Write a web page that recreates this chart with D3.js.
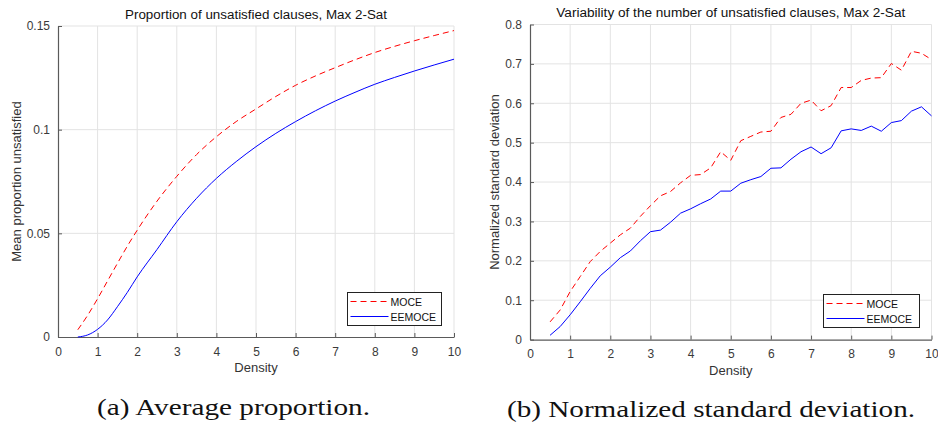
<!DOCTYPE html>
<html>
<head>
<meta charset="utf-8">
<script src="https://cdn.jsdelivr.net/npm/d3@7"></script>
<style>
  html, body { margin: 0; padding: 0; background: #fff; }
  svg { display: block; }
  text { font-family: "Liberation Sans", Arial, Helvetica, sans-serif; }
</style>
</head>
<body>
<svg id="chart" width="938" height="429"></svg>
<script>
// ---------- DATA ----------
const densityA = [0.5, 0.75, 1, 1.25, 1.5, 1.75, 2, 2.5, 3, 3.5, 4, 4.5, 5, 5.5, 6, 6.5, 7, 7.5, 8, 8.5, 9, 9.5, 10];
const moceMean = [0.0035, 0.0105, 0.0185, 0.0270, 0.0355, 0.0438, 0.0515, 0.0655, 0.0775, 0.0880, 0.0966, 0.1039, 0.1100, 0.1160, 0.1214, 0.1259, 0.1299, 0.1337, 0.1372, 0.1402, 0.1429, 0.1454, 0.1478];
const eemoceMean = [0.0000, 0.0010, 0.0037, 0.0082, 0.0146, 0.0215, 0.0290, 0.0422, 0.0556, 0.0669, 0.0765, 0.0846, 0.0918, 0.0982, 0.1039, 0.1091, 0.1138, 0.1180, 0.1219, 0.1252, 0.1283, 0.1312, 0.1340];

const densityB = [0.5, 0.75, 1, 1.25, 1.5, 1.75, 2, 2.25, 2.5, 2.75, 3, 3.25, 3.5, 3.75, 4, 4.25, 4.5, 4.75, 5, 5.25, 5.5, 5.75, 6, 6.25, 6.5, 6.75, 7, 7.25, 7.5, 7.75, 8, 8.25, 8.5, 8.75, 9, 9.25, 9.5, 9.75, 10];
const moceStd = [0.045, 0.075, 0.122, 0.160, 0.198, 0.224, 0.245, 0.266, 0.283, 0.313, 0.340, 0.365, 0.376, 0.398, 0.417, 0.419, 0.436, 0.477, 0.455, 0.505, 0.516, 0.527, 0.529, 0.564, 0.572, 0.600, 0.608, 0.581, 0.594, 0.640, 0.640, 0.658, 0.664, 0.665, 0.701, 0.684, 0.732, 0.727, 0.711];
const eemoceStd = [0.011, 0.033, 0.063, 0.096, 0.130, 0.162, 0.184, 0.208, 0.225, 0.251, 0.274, 0.278, 0.298, 0.321, 0.332, 0.345, 0.357, 0.377, 0.377, 0.397, 0.406, 0.414, 0.435, 0.436, 0.458, 0.477, 0.489, 0.472, 0.487, 0.530, 0.535, 0.531, 0.542, 0.529, 0.551, 0.556, 0.580, 0.591, 0.568];

const xTicks = [0, 1, 2, 3, 4, 5, 6, 7, 8, 9, 10];
const yTicksA = [0, 0.05, 0.1, 0.15];
const yTicksB = [0, 0.1, 0.2, 0.3, 0.4, 0.5, 0.6, 0.7, 0.8];
const seriesNames = ["MOCE", "EEMOCE"];
const seriesColors = ["#ff0000", "#0000ff"];

const titles = ["Proportion of unsatisfied clauses, Max 2-Sat", "Variability of the number of unsatisfied clauses, Max 2-Sat"];
const yLabels = ["Mean proportion unsatisfied", "Normalized standard deviation"];
const xLabel = "Density";
const captions = ["(a) Average proportion.", "(b) Normalized standard deviation."];

// ---------- DRAW ----------
const svg = d3.select("#chart");

function panel(opts) {
  const { left, right, top, bottom, yMax, yTicks, yFmt, xs, series, title, yLabel, legend, caption, titleY, titleW, xLabelY, ylabX } = opts;
  const x = d3.scaleLinear().domain([0, 10]).range([left, right]);
  const y = d3.scaleLinear().domain([0, yMax]).range([bottom, top]);
  const g = svg.append("g");

  // grid
  g.append("g").selectAll("line").data(xTicks.filter(d => d > 0)).join("line")
    .attr("x1", d => x(d)).attr("x2", d => x(d)).attr("y1", top).attr("y2", bottom)
    .attr("stroke", "#e3e3e3").attr("stroke-width", 1);
  g.append("g").selectAll("line").data(yTicks.filter(d => d > 0)).join("line")
    .attr("x1", left).attr("x2", right).attr("y1", d => y(d)).attr("y2", d => y(d))
    .attr("stroke", "#e3e3e3").attr("stroke-width", 1);

  // axes
  const xAxis = d3.axisBottom(x).tickValues(xTicks).tickSizeInner(-4).tickSizeOuter(0).tickPadding(10).tickFormat(d3.format("d"));
  const gx = g.append("g").attr("transform", `translate(0,${bottom})`).call(xAxis);
  const yAxis = d3.axisLeft(y).tickValues(yTicks).tickSizeInner(-4).tickSizeOuter(0).tickPadding(8).tickFormat(yFmt);
  const gy = g.append("g").attr("transform", `translate(${left},0)`).call(yAxis);
  [gx, gy].forEach(a => {
    a.select(".domain").attr("stroke", "#5a5a5a").attr("stroke-width", 1.2);
    a.selectAll(".tick line").attr("stroke", "#5a5a5a");
    a.selectAll(".tick text").attr("fill", "#3a3a3a").style("font-size", "12px")
      .style("font-family", "'Liberation Sans', Arial, sans-serif");
  });

  // lines
  const line = d3.line().x((d, i) => x(xs[i])).y(d => y(d));
  if (opts.smooth) line.curve(d3.curveMonotoneX);
  series.forEach((s, k) => {
    g.append("path").datum(s).attr("d", line).attr("fill", "none")
      .attr("stroke", seriesColors[k]).attr("stroke-width", 1)
      .attr("stroke-dasharray", k === 0 ? "6,4" : null);
  });

  // title
  g.append("text").attr("x", (left + right) / 2).attr("y", titleY).attr("text-anchor", "middle")
    .style("font-size", "12.5px").attr("fill", "#111")
    .attr("textLength", titleW).attr("lengthAdjust", "spacingAndGlyphs").text(title);
  // x label
  g.append("text").attr("x", (left + right) / 2).attr("y", xLabelY).attr("text-anchor", "middle")
    .style("font-size", "13px").attr("fill", "#333").text(xLabel);
  // y label
  g.append("text").attr("transform", `translate(${ylabX},${(top + bottom) / 2}) rotate(-90)`)
    .attr("text-anchor", "middle").style("font-size", "13px").attr("fill", "#333").text(yLabel);

  // legend
  const L = legend;
  g.append("rect").attr("x", L.x).attr("y", L.y).attr("width", L.w).attr("height", L.h)
    .attr("fill", "#fff").attr("stroke", "#222").attr("stroke-width", 1);
  seriesNames.forEach((n, k) => {
    const ly = L.y + 9 + k * 15;
    g.append("line").attr("x1", L.x + 3).attr("x2", L.x + 41).attr("y1", ly).attr("y2", ly)
      .attr("stroke", seriesColors[k]).attr("stroke-width", 1)
      .attr("stroke-dasharray", k === 0 ? "6,4" : null);
    g.append("text").attr("x", L.x + 43).attr("y", ly + 4).style("font-size", "10.5px")
      .attr("fill", "#111").text(n);
  });

  // caption
  svg.append("text").attr("x", caption.x).attr("y", caption.y)
    .style("font-family", "'Liberation Serif', 'Times New Roman', serif").style("font-size", "24px")
    .attr("fill", "#111").attr("textLength", caption.w).attr("lengthAdjust", "spacingAndGlyphs")
    .text(caption.text);
}

panel({
  left: 58, right: 454, top: 26, bottom: 337, yMax: 0.15, yTicks: yTicksA,
  yFmt: d => d === 0 ? "0" : String(d), xs: densityA, series: [moceMean, eemoceMean], smooth: true,
  title: titles[0], titleW: 262, yLabel: yLabels[0], titleY: 19, xLabelY: 372, ylabX: 21,
  legend: { x: 347.5, y: 292.5, w: 94, h: 33 },
  caption: { x: 97, y: 415, w: 273, text: captions[0] }
});
panel({
  left: 530, right: 931.5, top: 24.5, bottom: 339.6, yMax: 0.8, yTicks: yTicksB,
  yFmt: d => d === 0 ? "0" : String(d), xs: densityB, series: [moceStd, eemoceStd], smooth: false,
  title: titles[1], titleW: 349, yLabel: yLabels[1], titleY: 17, xLabelY: 375, ylabX: 499,
  legend: { x: 823.5, y: 294.5, w: 96, h: 33 },
  caption: { x: 507, y: 417, w: 408, text: captions[1] }
});
</script>
</body>
</html>
